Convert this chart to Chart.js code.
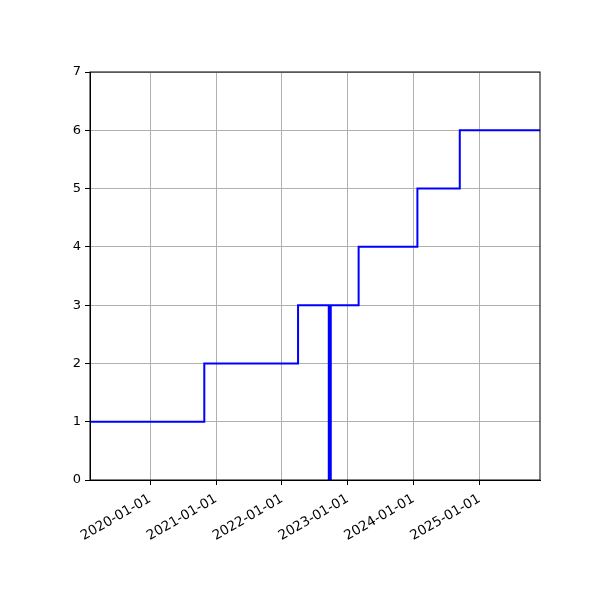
<!DOCTYPE html>
<html>
<head>
<meta charset="utf-8">
<script src="https://cdn.jsdelivr.net/npm/chart.js@4"></script>
<style>
  html, body { margin: 0; padding: 0; background: #fff; }
  #wrap { width: 600px; height: 600px; }
</style>
</head>
<body>
<div id="wrap"><canvas id="step-chart" width="600" height="600"></canvas></div>
<script>
// values
var stepDates = ['2019-02-02', '2020-10-28', '2022-04-01', '2023-03-03', '2024-01-23', '2024-09-14', '2025-12-03'];
var stepValues = [1, 2, 3, 4, 5, 6, 6];
var markDate = '2022-09-24';
var markValues = [0, 3];
var tickDates = ['2020-01-01', '2021-01-01', '2022-01-01', '2023-01-01', '2024-01-01', '2025-01-01'];
var xRange = ['2019-02-02', '2025-12-03'];
var yTicks = [0, 1, 2, 3, 4, 5, 6, 7];

function ts(s) { return Date.parse(s + 'T00:00:00Z'); }
function fmt(v) { return new Date(v).toISOString().slice(0, 10); }

var stepPoints = stepDates.map(function (d, i) { return { x: ts(d), y: stepValues[i] }; });
var markPoints = markValues.map(function (v) { return { x: ts(markDate), y: v }; });

var frame = {
  id: 'frame',
  afterDraw: function (chart) {
    var a = chart.chartArea, ctx = chart.ctx;
    ctx.save();
    ctx.strokeStyle = '#000';
    ctx.lineWidth = 1;
    ctx.strokeRect(a.left, a.top, a.right - a.left, a.bottom - a.top);
    ctx.restore();
  }
};

Chart.defaults.font.family = 'DejaVu Sans';
Chart.defaults.font.size = 13;
Chart.defaults.color = '#000';

new Chart('step-chart', {
  type: 'line',
  data: {
    datasets: [
      {
        data: stepPoints,
        stepped: 'before',
        borderColor: '#0000ff',
        borderWidth: 2,
        pointRadius: 0,
        fill: false
      },
      {
        data: markPoints,
        borderColor: '#0000ff',
        borderWidth: 4,
        pointRadius: 0,
        fill: false
      }
    ]
  },
  options: {
    responsive: false,
    animation: false,
    layout: { padding: { top: 72, right: 60, left: 0, bottom: 0 } },
    plugins: { legend: { display: false }, tooltip: { enabled: false } },
    scales: {
      x: {
        type: 'linear',
        min: ts(xRange[0]),
        max: ts(xRange[1]),
        afterBuildTicks: function (axis) {
          axis.ticks = tickDates.map(function (d) { return { value: ts(d) }; });
        },
        afterFit: function (axis) { axis.height = 120; },
        ticks: {
          autoSkip: false,
          minRotation: 30,
          maxRotation: 30,
          padding: 6,
          font: { size: 13.5 },
          callback: function (v) { return fmt(v); }
        },
        grid: { color: '#b0b0b0', lineWidth: 1, tickColor: '#000', tickLength: 5 },
        border: { color: '#000' }
      },
      y: {
        min: 0,
        max: 7,
        afterBuildTicks: function (axis) {
          axis.ticks = yTicks.map(function (v) { return { value: v }; });
        },
        afterFit: function (axis) { axis.width = 90; },
        ticks: { padding: 4 },
        grid: { color: '#b0b0b0', lineWidth: 1, tickColor: '#000', tickLength: 5 },
        border: { color: '#000' }
      }
    }
  },
  plugins: [frame]
});
</script>
</body>
</html>
